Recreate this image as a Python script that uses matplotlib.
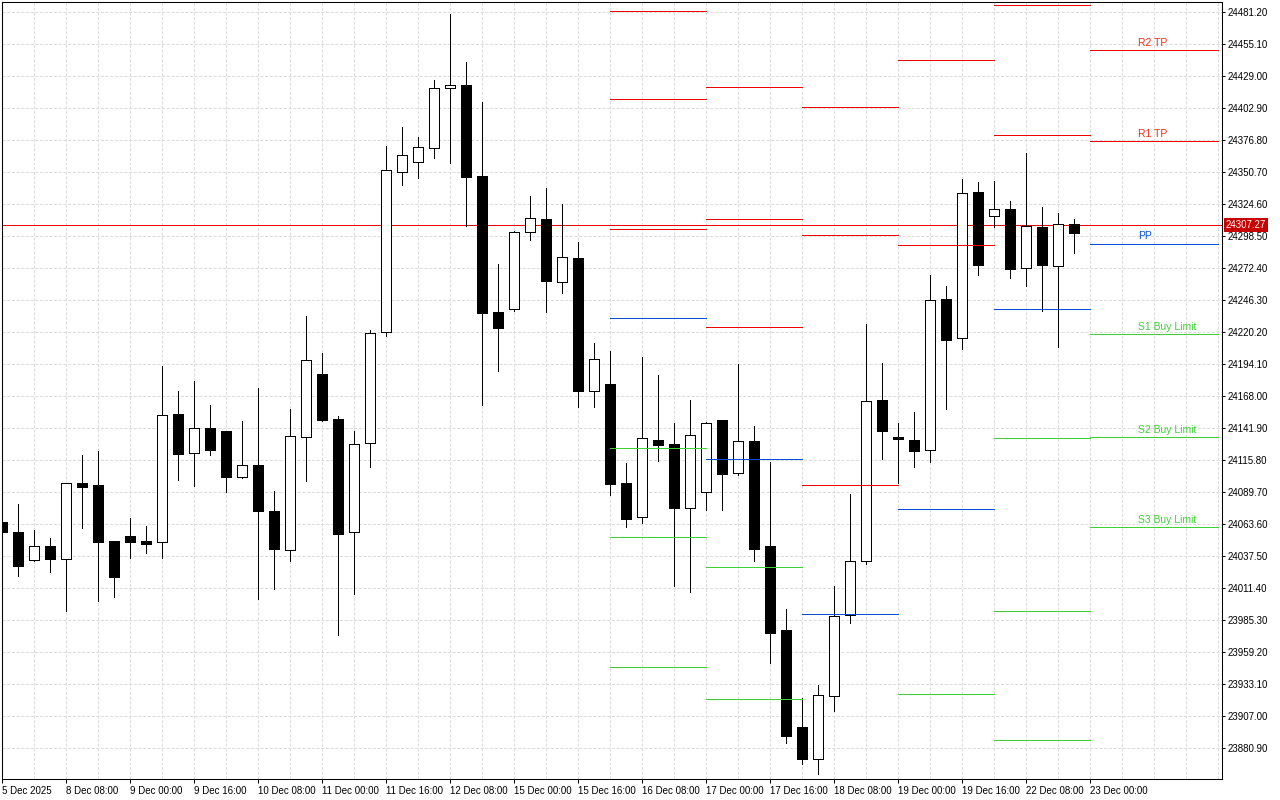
import numpy as np
import matplotlib.pyplot as plt
from matplotlib.ticker import MultipleLocator

# H4 candles, 5 Dec 16:00 .. 22 Dec 20:00
opens = [24065.0, 24056.9, 24033.8, 24045.2, 24034.6, 24096.6, 24094.9, 24049.3, 24053.3, 24049.5,
         24048.5, 24153.1, 24121.0, 24141.7, 24139.2, 24101.5, 24111.5, 24074.0, 24041.9, 24134.1,
         24185.7, 24149.0, 24057.1, 24129.2, 24220.2, 24350.7, 24358.9, 24369.8, 24418.7, 24421.2,
         24347.0, 24236.0, 24238.5, 24301.3, 24311.9, 24260.5, 24280.3, 24171.6, 24177.6, 24096.8,
         24068.8, 24131.9, 24128.6, 24076.2, 24089.7, 24148.2, 24104.7, 24131.1, 24045.4, 23976.9,
         23897.8, 23872.0, 23922.8, 23989.2, 24033.0, 24164.5, 24134.3, 24131.9, 24123.5, 24246.9,
         24214.8, 24334.2, 24314.3, 24320.3, 24271.9, 24305.6, 24274.0, 24307.8]
highs = [24066.6, 24079.7, 24058.5, 24052.0, 24097.0, 24119.7, 24122.9, 24049.5, 24068.3, 24061.7,
         24192.2, 24171.8, 24180.0, 24160.4, 24139.5, 24147.4, 24174.3, 24090.3, 24157.2, 24233.0,
         24203.1, 24151.5, 24139.2, 24221.6, 24371.7, 24387.2, 24379.0, 24425.5, 24479.3, 24440.2,
         24407.6, 24275.4, 24302.6, 24330.9, 24337.2, 24324.4, 24293.1, 24211.0, 24204.5, 24113.1,
         24199.6, 24184.9, 24145.8, 24164.3, 24146.6, 24148.5, 24193.9, 24143.3, 24113.9, 23994.1,
         23921.5, 23932.1, 24012.8, 24087.8, 24226.5, 24194.7, 24145.7, 24154.7, 24266.5, 24257.5,
         24344.8, 24342.3, 24343.1, 24326.8, 24366.0, 24321.9, 24317.3, 24312.1]
lows = [24055.2, 24021.0, 24033.0, 24024.5, 23992.7, 24060.4, 24000.8, 24004.1, 24035.9, 24040.0,
        24035.9, 24099.3, 24094.6, 24119.7, 24089.7, 24101.0, 24002.5, 24010.6, 24033.4, 24098.7,
        24147.6, 23972.8, 24006.5, 24110.1, 24217.0, 24340.1, 24345.8, 24362.1, 24358.0, 24306.7,
        24160.4, 24188.4, 24237.3, 24295.2, 24236.5, 24252.0, 24159.0, 24158.6, 24087.0, 24061.2,
        24064.4, 24115.0, 24012.8, 24008.2, 24074.8, 24074.8, 24103.3, 24033.4, 23950.3, 23885.0,
        23867.9, 23859.7, 23911.1, 23982.9, 24031.0, 24116.6, 24096.8, 24110.1, 24114.2, 24157.4,
        24206.3, 24266.7, 24305.9, 24264.3, 24257.7, 24237.3, 24208.0, 24284.6]
closes = [24057.1, 24029.4, 24045.2, 24035.1, 24096.6, 24093.8, 24048.9, 24020.4, 24048.9, 24047.3,
          24152.0, 24120.7, 24141.4, 24124.0, 24102.0, 24111.3, 24074.2, 24043.2, 24134.9, 24196.9,
          24148.2, 24055.5, 24128.4, 24218.9, 24351.8, 24364.1, 24370.6, 24418.7, 24421.2, 24346.6,
          24235.2, 24223.5, 24301.3, 24312.7, 24261.8, 24280.9, 24172.1, 24197.7, 24096.2, 24067.7,
          24133.3, 24128.1, 24076.7, 24135.7, 24145.8, 24104.4, 24131.1, 24043.2, 23974.7, 23890.7,
          23872.0, 23923.7, 23988.1, 24033.0, 24163.7, 24139.5, 24132.5, 24123.2, 24245.8, 24213.7,
          24333.3, 24274.9, 24320.0, 24271.6, 24306.2, 24274.9, 24307.8, 24301.0]

current_price = 24307.27

x_labels = ["5 Dec 2025", "8 Dec 08:00", "9 Dec 00:00", "9 Dec 16:00", "10 Dec 08:00",
            "11 Dec 00:00", "11 Dec 16:00", "12 Dec 08:00", "15 Dec 00:00", "15 Dec 16:00",
            "16 Dec 08:00", "17 Dec 00:00", "17 Dec 16:00", "18 Dec 08:00", "19 Dec 00:00",
            "19 Dec 16:00", "22 Dec 08:00", "23 Dec 00:00"]

# daily pivot levels: one entry per day (16, 17, 18, 19, 22, 23 Dec)
pivot_start = [38, 44, 50, 56, 62, 68]
pivot_end = [44, 50, 56, 62, 68, 76]
r3 = [24481.5, 24419.5, 24403.2, None, None, None]
r2 = [24409.8, 24311.9, 24298.8, 24441.6, 24486.4, 24449.7]
r1 = [24303.7, 24223.8, 24094.8, 24290.7, 24380.4, 24375.5]
pp = [24231.1, 24116.1, 23989.7, 24075.4, 24239.0, 24292.0]
s1 = [24125.1, 24028.1, None, 23924.5, 24133.3, 24218.1]
s2 = [24052.5, 23920.4, None, None, 23992.2, 24134.1]
s3 = [23946.5, None, None, None, 23887.0, 24060.7]

RED = '#F00000'
BLUE = '#0050DC'
GREEN = '#3CD232'
LW = 0.55  # ~1 px without antialiasing

plt.rcParams['font.family'] = ['Liberation Sans', 'DejaVu Sans']
plt.rcParams['font.size'] = 7

fig = plt.figure(figsize=(12.8, 8), dpi=100)
ax = fig.add_axes([2 / 1280, 21 / 800, 1220 / 1280, 777 / 800])

o = np.array(opens)
h = np.array(highs)
l = np.array(lows)
c = np.array(closes)
x = np.arange(len(o))
bull = c >= o

# candles
ax.vlines(x, l, h, color='black', lw=LW, zorder=3, antialiased=False)
body_h = np.maximum(np.abs(c - o), 0.9)
ax.bar(x, body_h, bottom=np.minimum(o, c), width=0.64,
       color=np.where(bull, 'white', 'black'), edgecolor='black', linewidth=LW,
       zorder=4, antialiased=False)

# current price line
ax.axhline(current_price, color=RED, lw=LW, zorder=2, antialiased=False)

# pivot segments
levels = [(r3, RED), (r2, RED), (r1, RED), (pp, BLUE), (s1, GREEN), (s2, GREEN), (s3, GREEN)]
for vals, col in levels:
    for x0, x1, v in zip(pivot_start, pivot_end, vals):
        if v is not None:
            ax.hlines(v, x0, x1, color=col, lw=LW, zorder=5, antialiased=False)

# labels on the latest day
last_labels = [("R2 TP", r2[-1], '#F52A10'), ("R1 TP", r1[-1], '#F52A10'), ("PP", pp[-1], BLUE),
               ("S1 Buy Limit", s1[-1], GREEN), ("S2 Buy Limit", s2[-1], GREEN),
               ("S3 Buy Limit", s3[-1], GREEN)]
for txt, v, col in last_labels:
    ax.annotate(txt, xy=(71, v), xytext=(0, 1.8), textcoords='offset points',
                ha='left', va='bottom', color=col, fontsize=7.5, zorder=6)

# price tag on the axis
ax.annotate(f"{current_price:.2f}", xy=(1, current_price), xycoords=('axes fraction', 'data'),
            xytext=(2.6, 0), textcoords='offset points', ha='left', va='center',
            color='white', fontsize=7,
            bbox=dict(boxstyle='square,pad=0.18', fc='#C80000', ec='none'),
            annotation_clip=False, zorder=10)

# axes
ax.set_xlim(-0.02, 76.23)
ax.set_ylim(23855.4, 24489.1)
yt = 23880.9 + 26.1 * np.arange(24)
ax.set_yticks(yt)
ax.set_yticklabels([f"{v:.2f}" for v in yt])
ax.yaxis.tick_right()
ax.set_xticks(np.arange(0, 69, 4))
ax.set_xticklabels(x_labels)
for lbl in ax.get_xticklabels():
    lbl.set_ha('left')
ax.xaxis.set_minor_locator(MultipleLocator(2))
ax.tick_params(axis='y', length=2.5, width=0.75, pad=1.5)
ax.tick_params(axis='x', which='major', length=3, width=0.75, pad=2)
ax.tick_params(axis='x', which='minor', length=0)

grid_style = dict(color='#DDDDDD', linestyle=(0, (3, 1.5)), lw=0.75)
ax.grid(True, axis='y', which='major', **grid_style)
ax.grid(True, axis='x', which='both', **grid_style)
ax.set_axisbelow(True)
for sp in ax.spines.values():
    sp.set_linewidth(0.75)
    sp.set_color('black')

fig.savefig('out.png', dpi=100, facecolor='white')
plt.close(fig)
